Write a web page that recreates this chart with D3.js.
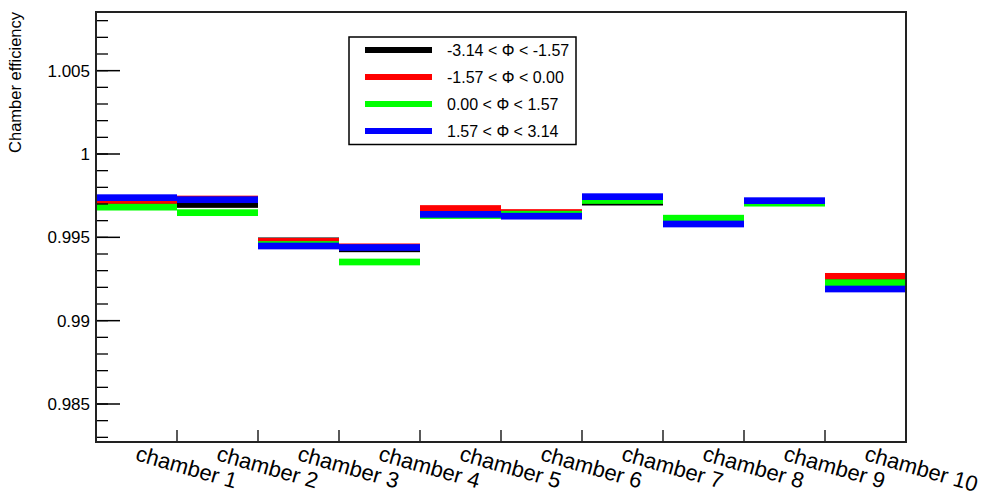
<!DOCTYPE html>
<html>
<head>
<meta charset="utf-8">
<script src="https://cdn.jsdelivr.net/npm/d3@7"></script>
<style>
  html, body { margin: 0; padding: 0; background: #fff; }
  svg { display: block; font-family: "Liberation Sans", Arial, Helvetica, sans-serif; }
</style>
</head>
<body>
<svg id="chart" width="984" height="496"></svg>
<script>
const categories = ["chamber 1","chamber 2","chamber 3","chamber 4","chamber 5","chamber 6","chamber 7","chamber 8","chamber 9","chamber 10"];
const seriesNames = ["-3.14 < \u03A6 < -1.57", "-1.57 < \u03A6 < 0.00", "0.00 < \u03A6 < 1.57", "1.57 < \u03A6 < 3.14"];
const seriesColors = ["#000000", "#ff0000", "#00ff00", "#0000ff"];
const blackValues = [0.99700, 0.99697, 0.99479, 0.99431, 0.99640, 0.99640, 0.99711, 0.99600, 0.99710, 0.99230];
const redValues   = [0.99721, 0.99730, 0.99476, 0.99443, 0.99673, 0.99649, 0.99725, 0.99600, 0.99712, 0.99266];
const greenValues = [0.99681, 0.99648, 0.99457, 0.99352, 0.99631, 0.99639, 0.99721, 0.99615, 0.99705, 0.99228];
const blueValues  = [0.99738, 0.99726, 0.99448, 0.99439, 0.99638, 0.99627, 0.99744, 0.99580, 0.99720, 0.99190];
const yMajorTicks = [0.985, 0.99, 0.995, 1, 1.005];
const yDomain = [0.98272, 1.00852];
const yTitle = "Chamber efficiency";

const seriesValues = [blackValues, redValues, greenValues, blueValues];

const svg = d3.select("#chart");
const L = 96, R = 906, T = 12, B = 442;

const x = d3.scaleBand().domain(categories).range([L, R]).paddingInner(0).paddingOuter(0);
const y = d3.scaleLinear().domain(yDomain).range([B, T]);

// bars (thick horizontal bands across each bin)
const bandH = 6.7;
seriesValues.forEach((vals, si) => {
  svg.append("g").selectAll("rect")
    .data(vals.map((v, i) => ({ c: categories[i], v })))
    .join("rect")
    .attr("x", d => x(d.c))
    .attr("width", x.bandwidth())
    .attr("y", d => y(d.v) - bandH / 2)
    .attr("height", bandH)
    .attr("fill", seriesColors[si]);
});

// y axis: major and minor ticks
const minorTicks = d3.range(983, 1009).map(k => k / 1000);
svg.append("g").selectAll("line.minor")
  .data(minorTicks)
  .join("line")
  .attr("x1", L).attr("x2", L + 12)
  .attr("y1", d => y(d)).attr("y2", d => y(d))
  .attr("stroke", "#000").attr("stroke-width", 1.3);
svg.append("g").selectAll("line.major")
  .data(yMajorTicks)
  .join("line")
  .attr("x1", L).attr("x2", L + 24)
  .attr("y1", d => y(d)).attr("y2", d => y(d))
  .attr("stroke", "#000").attr("stroke-width", 1.5);
svg.append("g").selectAll("text")
  .data(yMajorTicks)
  .join("text")
  .attr("x", L - 6)
  .attr("y", d => y(d))
  .attr("dy", "0.36em")
  .attr("text-anchor", "end")
  .attr("font-size", 17)
  .attr("fill", "#000")
  .text(d => String(+d.toFixed(3)));

// x axis ticks at bin edges
const edges = categories.slice(1).map(c => x(c));
svg.append("g").selectAll("line")
  .data(edges)
  .join("line")
  .attr("x1", d => d).attr("x2", d => d)
  .attr("y1", B).attr("y2", B - 12)
  .attr("stroke", "#000").attr("stroke-width", 1.3);

// x labels rotated
svg.append("g").selectAll("text")
  .data(categories)
  .join("text")
  .attr("transform", c => `translate(${x(c) + x.bandwidth() / 2 - 2},460) rotate(16)`)
  .attr("text-anchor", "start")
  .attr("font-size", 22)
  .attr("fill", "#000")
  .text(c => c);

// frame
svg.append("rect")
  .attr("x", L).attr("y", T)
  .attr("width", R - L).attr("height", B - T)
  .attr("fill", "none")
  .attr("stroke", "#222").attr("stroke-width", 2);

// y title
svg.append("text")
  .attr("transform", `translate(21,12) rotate(-90)`)
  .attr("text-anchor", "end")
  .attr("font-size", 16.5)
  .attr("fill", "#000")
  .text(yTitle);

// legend
const lg = svg.append("g");
lg.append("rect")
  .attr("x", 349).attr("y", 37).attr("width", 227).attr("height", 107.5)
  .attr("fill", "#fff").attr("stroke", "#000").attr("stroke-width", 1.5);
const rowY = d3.scalePoint().domain(seriesNames).range([50, 131]);
lg.selectAll("line")
  .data(seriesNames)
  .join("line")
  .attr("x1", 365).attr("x2", 432)
  .attr("y1", d => rowY(d)).attr("y2", d => rowY(d))
  .attr("stroke", (d, i) => seriesColors[i])
  .attr("stroke-width", 6);
lg.selectAll("text")
  .data(seriesNames)
  .join("text")
  .attr("x", 447)
  .attr("y", d => rowY(d))
  .attr("dy", "0.36em")
  .attr("font-size", 16)
  .attr("fill", "#000")
  .text(d => d);
</script>
</body>
</html>
